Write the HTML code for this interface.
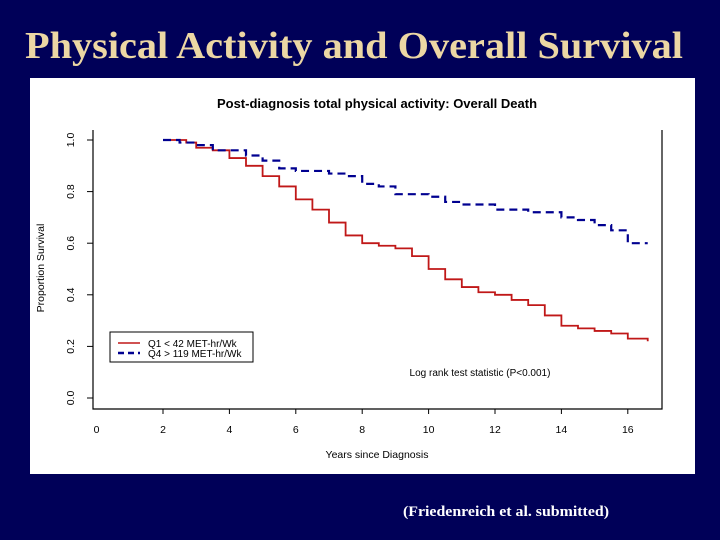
<!DOCTYPE html>
<html><head><meta charset="utf-8"><style>
html,body{margin:0;padding:0;background:#000058;}
svg{display:block;}
</style></head><body>
<svg width="720" height="540" viewBox="0 0 720 540" xmlns="http://www.w3.org/2000/svg">
<rect x="0" y="0" width="720" height="540" fill="#000058"/>
<text x="25" y="58" font-family="Liberation Serif, serif" font-weight="bold" font-size="38" fill="#ecd7a4" textLength="658" lengthAdjust="spacingAndGlyphs">Physical Activity and Overall Survival</text>
<rect x="30" y="78" width="665" height="396" fill="#ffffff"/>
<text x="377" y="108" text-anchor="middle" font-family="Liberation Sans, sans-serif" font-weight="bold" font-size="13" fill="#000">Post-diagnosis total physical activity: Overall Death</text>
<g id="axes"></g>
<g id="series"></g>
<g>
<rect x="110" y="332" width="143" height="30" fill="#fff" stroke="#000" stroke-width="1"/>
<line x1="118" y1="343" x2="140" y2="343" stroke="#c01818" stroke-width="1.5"/>
<text x="148" y="347" font-family="Liberation Sans, sans-serif" font-size="10" fill="#000">Q1 &lt; 42 MET-hr/Wk</text>
<line x1="118" y1="353" x2="140" y2="353" stroke="#000090" stroke-width="2.5" stroke-dasharray="6,4"/>
<text x="148" y="357" font-family="Liberation Sans, sans-serif" font-size="10" fill="#000">Q4 &gt; 119 MET-hr/Wk</text>
</g>
<text x="480" y="376" text-anchor="middle" font-family="Liberation Sans, sans-serif" font-size="10" fill="#000">Log rank test statistic (P&lt;0.001)</text>
<text x="377" y="458" text-anchor="middle" font-family="Liberation Sans, sans-serif" font-size="10.5" fill="#000">Years since Diagnosis</text>
<text transform="translate(44,268) rotate(-90)" text-anchor="middle" font-family="Liberation Sans, sans-serif" font-size="10.5" fill="#000">Proportion Survival</text>
<text x="506" y="516" text-anchor="middle" font-family="Liberation Serif, serif" font-weight="bold" font-size="15" fill="#ffffff" textLength="206" lengthAdjust="spacingAndGlyphs">(Friedenreich et al. submitted)</text>
</svg>
<script>
const xTicks = [0, 2, 4, 6, 8, 10, 12, 14, 16];
const yTicks = [0.0, 0.2, 0.4, 0.6, 0.8, 1.0];
const yTickLabels = ["0.0", "0.2", "0.4", "0.6", "0.8", "1.0"];
const q1Years = [2, 2.7, 3, 3.5, 4, 4.5, 5, 5.5, 6, 6.5, 7, 7.5, 8, 8.5, 9, 9.5, 10, 10.5, 11, 11.5, 12, 12.5, 13, 13.5, 14, 14.5, 15, 15.5, 16, 16.6];
const q1Survival = [1.0, 0.99, 0.97, 0.96, 0.93, 0.90, 0.86, 0.82, 0.77, 0.73, 0.68, 0.63, 0.60, 0.59, 0.58, 0.55, 0.50, 0.46, 0.43, 0.41, 0.40, 0.38, 0.36, 0.32, 0.28, 0.27, 0.26, 0.25, 0.23, 0.22];
const q4Years = [2, 2.5, 3, 3.5, 4, 4.5, 5, 5.5, 6, 7, 7.5, 8, 8.5, 9, 10, 10.5, 11, 12, 13, 14, 14.5, 15, 15.5, 16, 16.6];
const q4Survival = [1.0, 0.99, 0.98, 0.96, 0.96, 0.94, 0.92, 0.89, 0.88, 0.87, 0.86, 0.83, 0.82, 0.79, 0.78, 0.76, 0.75, 0.73, 0.72, 0.70, 0.69, 0.67, 0.65, 0.60, 0.60];

const NS = "http://www.w3.org/2000/svg";
const X0 = 96.6, XS = 33.2, Y0 = 398, YS = 258;
function sx(v){ return X0 + v * XS; }
function sy(v){ return Y0 - v * YS; }
function mk(tag, attrs, parent){
  const e = document.createElementNS(NS, tag);
  for (const k in attrs) e.setAttribute(k, attrs[k]);
  parent.appendChild(e);
  return e;
}
const axes = document.getElementById('axes');
const frame = mk('path', {d:'M93,130 L93,409 L662,409 L662,130', fill:'none', stroke:'#000', 'stroke-width':1.2}, axes);


xTicks.forEach(t => {
  if (t > 0) {
    const tk = mk('line', {x1:sx(t), y1:409, x2:sx(t), y2:414, stroke:'#000'}, axes);
    
    
  }
  const lb = mk('text', {x:sx(t), y:433, 'text-anchor':'middle', 'font-family':'Liberation Sans, sans-serif', 'font-size':10.5, fill:'#000'}, axes);
  lb.textContent = String(t);
  
  
});
yTicks.forEach((t, i) => {
  const tk = mk('line', {x1:87, y1:sy(t), x2:93, y2:sy(t), stroke:'#000'}, axes);
  
  
  const lb = mk('text', {transform:'translate(74,' + sy(t) + ') rotate(-90)', 'text-anchor':'middle', 'font-family':'Liberation Sans, sans-serif', 'font-size':10.5, fill:'#000'}, axes);
  lb.textContent = yTickLabels[i];
  
  
});
function stepPath(xs, ys){
  let d = 'M' + sx(xs[0]) + ',' + sy(ys[0]);
  for (let i = 1; i < xs.length; i++) {
    d += ' L' + sx(xs[i]) + ',' + sy(ys[i-1]) + ' L' + sx(xs[i]) + ',' + sy(ys[i]);
  }
  return d;
}
const series = document.getElementById('series');
const q1 = mk('path', {d:stepPath(q1Years, q1Survival), fill:'none', stroke:'#c01818', 'stroke-width':1.8}, series);


const q4 = mk('path', {d:stepPath(q4Years, q4Survival), fill:'none', stroke:'#000090', 'stroke-width':2.2, 'stroke-dasharray':'8,5'}, series);


</script>
</body></html>
